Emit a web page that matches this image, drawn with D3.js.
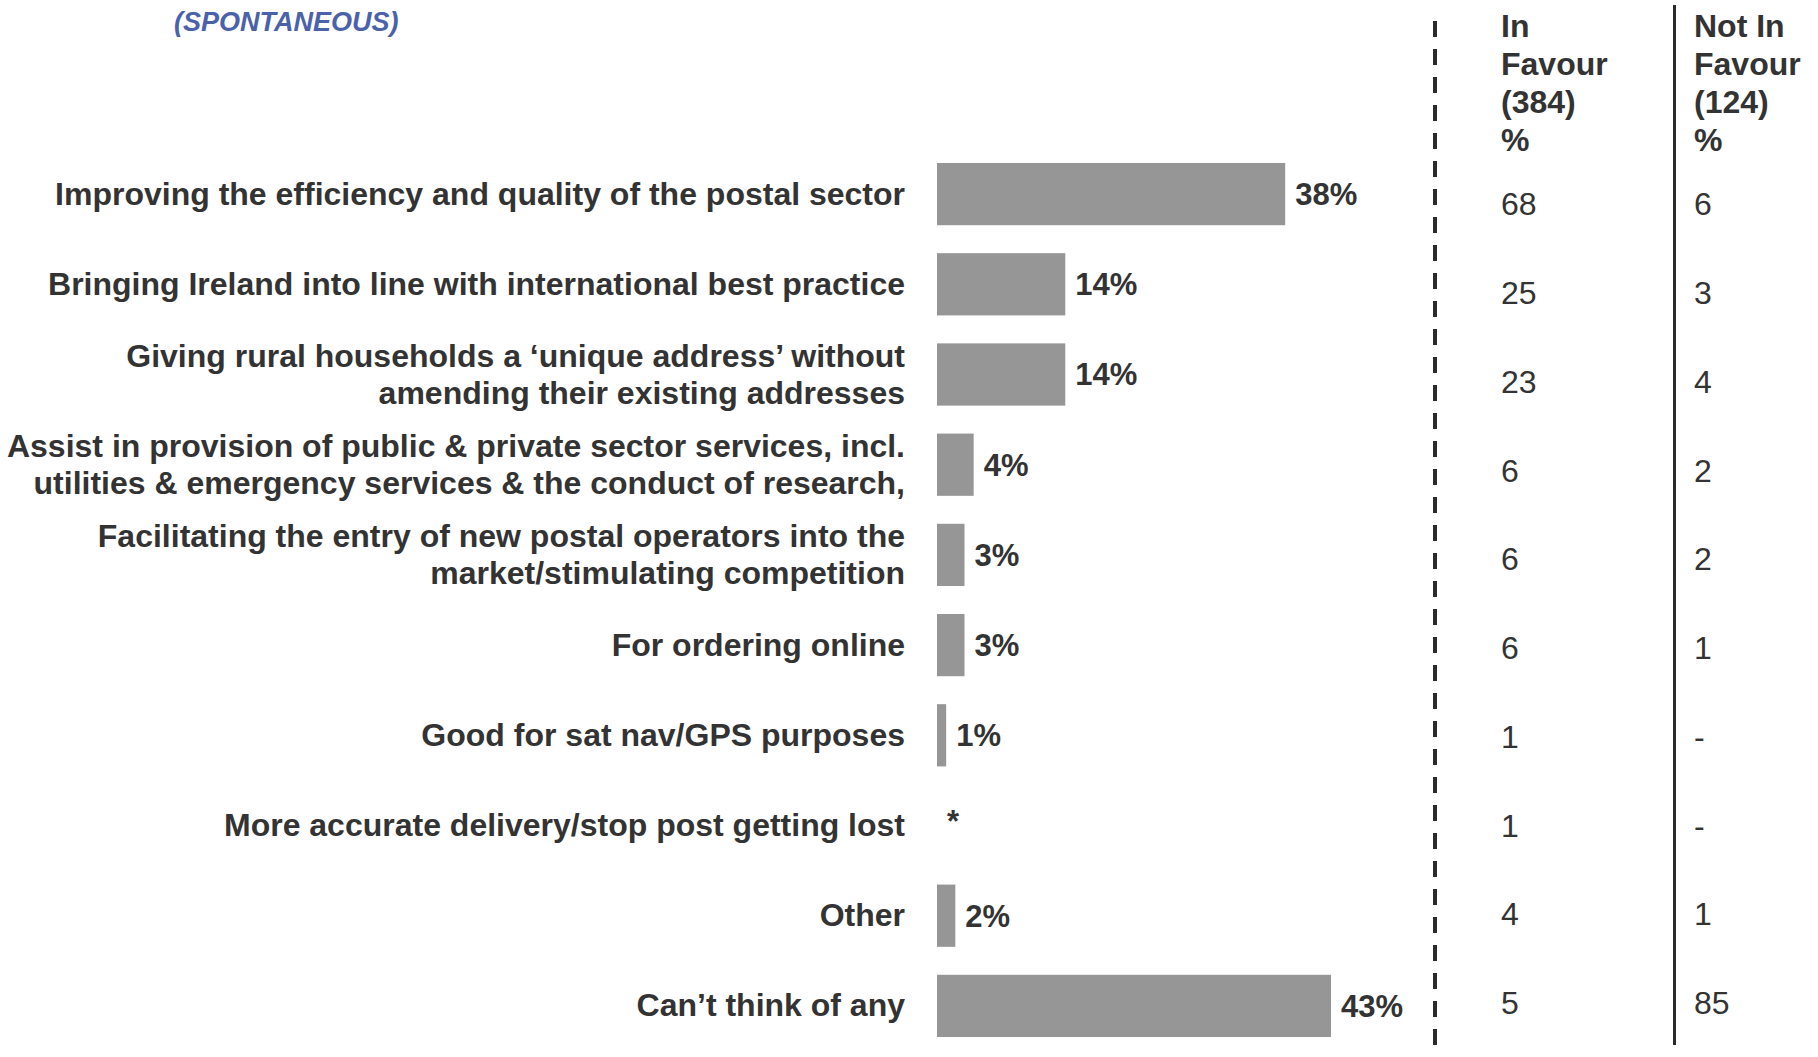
<!DOCTYPE html>
<html>
<head>
<meta charset="utf-8">
<script src="https://cdn.jsdelivr.net/npm/d3@7"></script>
<style>
  html, body { margin: 0; padding: 0; background: #ffffff; }
  svg { display: block; }
  text { font-family: "Liberation Sans", Arial, sans-serif; }
</style>
</head>
<body>
<svg id="chart" width="1818" height="1057"></svg>
<script>
// ---- data ----
const categories = [
  ["Improving the efficiency and quality of the postal sector"],
  ["Bringing Ireland into line with international best practice"],
  ["Giving rural households a \u2018unique address\u2019 without", "amending their existing addresses"],
  ["Assist in provision of public & private sector services, incl.", "utilities & emergency services & the conduct of research,"],
  ["Facilitating the entry of new postal operators into the", "market/stimulating competition"],
  ["For ordering online"],
  ["Good for sat nav/GPS purposes"],
  ["More accurate delivery/stop post getting lost"],
  ["Other"],
  ["Can\u2019t think of any"]
];
const totalValues = [38, 14, 14, 4, 3, 3, 1, 0, 2, 43];
const totalLabels = ["38%", "14%", "14%", "4%", "3%", "3%", "1%", "*", "2%", "43%"];
const inFavour = ["68", "25", "23", "6", "6", "6", "1", "1", "4", "5"];
const notInFavour = ["6", "3", "4", "2", "2", "1", "-", "-", "1", "85"];
const headerInFavour = ["In", "Favour", "(384)", "%"];
const headerNotInFavour = ["Not In", "Favour", "(124)", "%"];
const subtitle = "(SPONTANEOUS)";

// ---- drawing ----
const svg = d3.select("#chart");
const textColor = "#333333";
const idx = d3.range(categories.length);

const y = d3.scaleBand().domain(idx).range([149, 1051]).paddingInner(0.31).paddingOuter(0.155);
const yTable = d3.scalePoint().domain(idx).range([204, 1003]);
const x = d3.scaleLinear().domain([0, 43]).range([937, 1331]);

// subtitle
svg.append("text")
  .attr("x", 174).attr("y", 31)
  .attr("font-size", 27).attr("font-weight", "bold").attr("font-style", "italic")
  .attr("fill", "#4a62aa")
  .text(subtitle);

// bars
svg.append("g").selectAll("rect").data(idx).join("rect")
  .attr("x", x(0))
  .attr("y", i => y(i))
  .attr("width", i => Math.max(0, x(totalValues[i]) - x(0)))
  .attr("height", y.bandwidth())
  .attr("fill", "#969696");

// value labels
svg.append("g").selectAll("text").data(idx).join("text")
  .attr("x", i => x(totalValues[i]) + 10)
  .attr("y", i => y(i) + y.bandwidth() / 2)
  .attr("dy", i => totalValues[i] === 0 ? "0.2em" : "0.35em")
  .attr("font-size", 31).attr("font-weight", "bold")
  .attr("fill", textColor)
  .text(i => totalLabels[i]);

// category labels
const lineH = 37;
const catG = svg.append("g").selectAll("text").data(idx).join("text")
  .attr("text-anchor", "end")
  .attr("font-size", 32).attr("font-weight", "bold")
  .attr("fill", textColor);
catG.each(function(i) {
  const lines = categories[i];
  const cy = y(i) + y.bandwidth() / 2;
  const t = d3.select(this);
  lines.forEach((ln, k) => {
    t.append("tspan")
      .attr("x", 905)
      .attr("y", cy + (k - (lines.length - 1) / 2) * lineH)
      .attr("dy", "0.33em")
      .text(ln);
  });
});

// separator lines
svg.append("line")
  .attr("x1", 1435).attr("x2", 1435).attr("y1", 21).attr("y2", 1045)
  .attr("stroke", "#2b2b2b").attr("stroke-width", 4)
  .attr("stroke-dasharray", "16,12");
svg.append("line")
  .attr("x1", 1674.5).attr("x2", 1674.5).attr("y1", 5).attr("y2", 1045)
  .attr("stroke", "#2b2b2b").attr("stroke-width", 3);

// column headers
function header(lines, xPos) {
  const t = svg.append("text")
    .attr("font-size", 32).attr("font-weight", "bold").attr("fill", textColor);
  lines.forEach((ln, k) => {
    t.append("tspan").attr("x", xPos).attr("y", 36.5 + k * 38.3).text(ln);
  });
}
header(headerInFavour, 1501);
header(headerNotInFavour, 1694);

// table values
svg.append("g").selectAll("text").data(idx).join("text")
  .attr("x", 1501).attr("y", i => yTable(i)).attr("dy", "0.35em")
  .attr("font-size", 32).attr("fill", textColor)
  .text(i => inFavour[i]);
svg.append("g").selectAll("text").data(idx).join("text")
  .attr("x", 1694).attr("y", i => yTable(i)).attr("dy", "0.35em")
  .attr("font-size", 32).attr("fill", textColor)
  .text(i => notInFavour[i]);
</script>
</body>
</html>
